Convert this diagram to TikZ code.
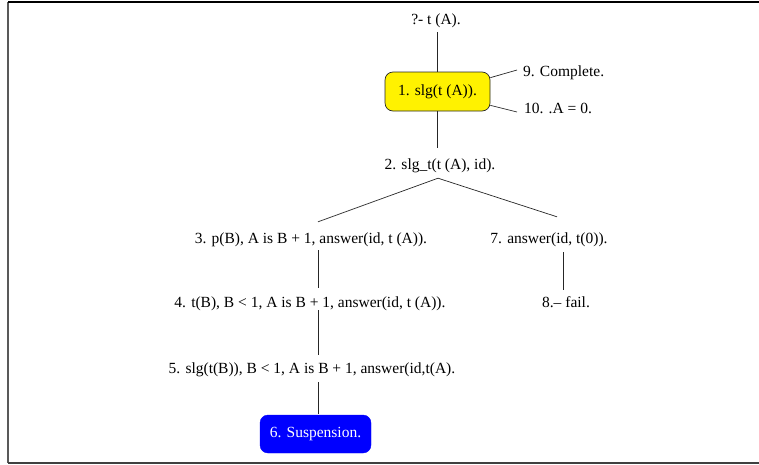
\documentclass[tikz,border=0pt]{standalone}
\usepackage{fontspec}
\setmainfont{Liberation Serif}
\begin{document}
\begin{tikzpicture}[x=1pt,y=-1pt,
  lbl/.style={inner sep=0pt, text height=11pt, text depth=4pt, font=\fontsize{15.5}{17}\selectfont},
  ybox/.style={lbl, draw=black!85, fill=yellow, rounded corners=8pt, minimum width=105pt, minimum height=39pt, line width=0.7pt},
  bbox/.style={lbl, draw=blue, fill=blue, text=white, rounded corners=8pt, minimum width=111pt, minimum height=38pt},
  edge/.style={draw=black!85, line width=0.7pt}]
\useasboundingbox (0,0) rectangle (759,464);
\draw[gray!70!black, line width=1.2pt] (8,2) -- (8,463);
\draw[black, line width=1.2pt] (8,2) -- (759,2);
\draw[black!75, line width=1.2pt] (8,463) -- (759,463);

\node[lbl] (q) at (436,21) {?- t (A).};
\node[ybox] (b1) at (437.5,91.5) {1. slg(t (A)).};
\node[lbl, anchor=west] (c9) at (523,73) {9. Complete.};
\node[lbl, anchor=west] (c10) at (524,110) {10. .A = 0.};
\node[lbl] (n2) at (440,166) {2. slg\_t(t (A), id).};
\node[lbl] (n3) at (311,240) {3. p(B), A is B + 1, answer(id, t (A)).};
\node[lbl] (n7) at (549,240) {7. answer(id, t(0)).};
\node[lbl] (n4) at (310,304) {4. t(B), B < 1, A is B + 1, answer(id, t (A)).};
\node[lbl] (n8) at (566,304) {8.-- fail.};
\node[lbl] (n5) at (312,370) {5. slg(t(B)), B < 1, A is B + 1, answer(id,t(A).};
\node[bbox] (b6) at (315.5,434) {6. Suspension.};

\draw[edge, shorten <=3.5pt] (q.south -| b1.north) -- (b1.north);
\draw[edge, shorten >=10.5pt] (b1.south) -- (b1.south |- n2.north);
\draw[edge] ([yshift=-6pt]b1.north east) -- ([xshift=-6pt,yshift=3pt]c9.west);
\draw[edge] ([yshift=6pt]b1.south east) -- ([xshift=-7pt,yshift=-2pt]c10.west);
\coordinate (apex) at ([xshift=-2pt,yshift=-4.5pt]n2.south);
\draw[edge] (apex) -- ([xshift=7pt,yshift=10.5pt]n3.north);
\draw[edge] (apex) -- ([xshift=8pt,yshift=15.5pt]n7.north);
\draw[edge] ([xshift=7pt,yshift=-2.5pt]n3.south) -- ([xshift=8pt,yshift=8.5pt]n4.north);
\draw[edge] ([xshift=14pt,yshift=-4.5pt]n7.south) -- ([xshift=-3pt,yshift=6.5pt]n8.north);
\draw[edge] ([xshift=8pt,yshift=1.5pt]n4.south) -- ([xshift=6pt,yshift=7.5pt]n5.north);
\draw[edge] ([xshift=6pt,yshift=-4.5pt]n5.south) -- ([xshift=2.5pt,yshift=1pt]b6.north);
\end{tikzpicture}
\end{document}
